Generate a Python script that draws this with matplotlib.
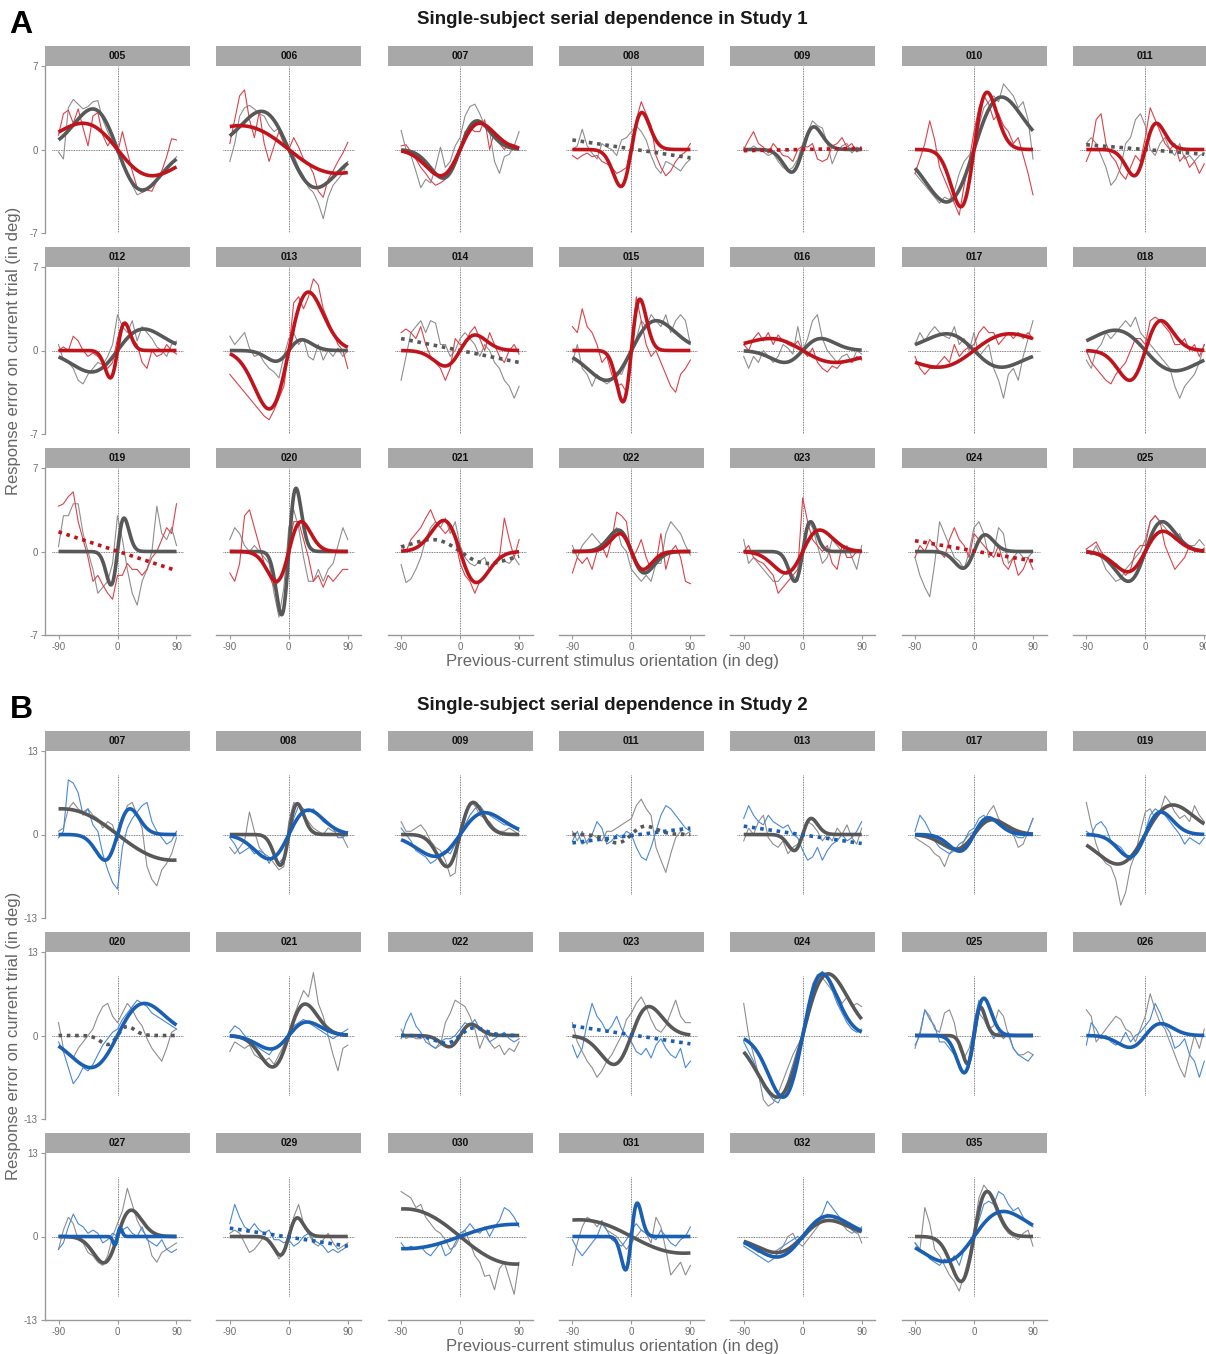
import numpy as np
import matplotlib
matplotlib.use('Agg')
import matplotlib.pyplot as plt
from matplotlib.patches import Rectangle

W, H = 1206, 1354

# sampled positions of the running-average error curves (deg)
RAW_X = np.linspace(-90, 90, 25)

# ---- Study 1 ----
S1_IDS = ['005', '006', '007', '008', '009', '010', '011',
          '012', '013', '014', '015', '016', '017', '018',
          '019', '020', '021', '022', '023', '024', '025']

S1_GRAY_RAW = [
    [-0.2, -0.8, 3.5, 4.2, 3.8, 3.4, 3.6, 4.0, 4.1, 2.5, 1.5, 0.5, -0.3, -1.0, -2.2, -3.0, -3.8, -3.6, -3.3, -3.1, -2.6, -2.0, -1.6, -1.2, -0.6],
    [-1.0, 0.5, 2.8, 3.5, 3.7, 3.4, 3.0, 2.8, 2.0, 1.5, 1.8, 0.5, 0.0, -0.5, -1.5, -2.2, -3.2, -3.6, -4.5, -5.8, -4.0, -3.0, -2.5, -2.0, -1.0],
    [1.6, 0.0, -0.5, -1.8, -3.2, -2.5, -2.8, -1.5, 0.2, -1.5, -1.0, 0.3, 1.0, 2.8, 3.6, 3.8, 3.0, 2.0, 1.5, -1.0, -2.0, -0.6, -0.4, 0.3, 1.5],
    [0.0, 0.3, 1.7, 0.3, -0.3, -0.8, 0.5, 0.2, 0.0, -0.5, 0.8, 1.0, 1.5, 2.0, 1.5, 0.8, -0.5, -1.5, -2.0, -1.0, -1.2, -1.5, -1.8, -1.2, -0.8],
    [0.2, -0.1, 0.3, 0.0, -0.2, -0.5, -0.3, -1.0, -1.5, -1.8, -1.5, -0.8, 0.5, 1.5, 2.4, 2.0, 1.8, 0.5, -1.2, -0.2, 0.3, 0.5, -0.3, 0.2, 0.0],
    [-2.0, -2.5, -3.0, -3.5, -4.0, -4.5, -4.0, -4.2, -3.5, -2.0, -1.0, -0.5, 0.0, 2.0, 3.5, 4.0, 4.5, 4.0, 5.5, 5.0, 4.5, 3.5, 4.0, 2.5, -0.8],
    [0.5, 1.0, 0.5, -0.5, -1.5, -3.0, -2.5, -1.5, 0.5, 1.0, 2.5, 3.0, 2.0, 0.0, -0.5, 0.5, 1.0, 0.0, -0.5, 0.5, -0.8, -0.5, -1.0, -0.5, -0.3],
    [0.5, -0.8, -1.0, -1.5, -2.5, -2.8, -2.0, -1.5, -1.0, -1.2, -0.5, 0.5, 3.0, 2.0, 1.5, 2.5, 0.8, 2.0, 1.5, 1.0, 0.3, 0.0, -0.5, 0.5, 0.8],
    [1.2, 0.5, 1.0, 1.5, 0.2, -0.5, -0.3, -1.0, -1.5, -1.8, -2.3, -0.5, 1.0, 1.5, 0.5, 1.0, -0.5, -0.8, 0.5, -0.8, 0.0, -0.5, 0.2, -0.5, 0.0],
    [-2.5, -0.5, 1.5, 2.0, 2.5, 1.5, 2.5, 2.3, 0.5, 0.5, -0.5, 0.0, 1.0, 1.5, 1.0, 0.5, -0.5, 0.5, 0.0, -1.0, -1.5, -2.5, -3.0, -4.0, -3.0],
    [-1.0, 0.5, -1.5, -2.0, -3.0, -2.0, -2.5, -2.8, -2.5, -1.8, -2.0, -1.0, 0.0, 1.0, 2.5, 2.0, 3.0, 2.5, 2.0, 3.0, 1.5, 2.5, 3.0, 2.5, 0.5],
    [-0.5, -1.5, -0.5, -1.0, 0.0, -0.5, -1.0, -0.5, 0.5, 0.2, -0.3, 2.0, 0.0, 1.0, 2.5, 3.0, 1.0, 0.0, -0.5, -1.0, -0.5, -0.3, -1.0, 0.0, -0.3],
    [0.5, 1.5, 0.8, 1.5, 2.0, 1.5, 1.2, 1.0, 2.0, 0.5, 1.0, 0.0, 1.5, -0.5, 0.0, 0.5, -1.5, -2.5, -4.0, -2.0, -1.5, -2.5, -0.5, 1.0, 2.5],
    [-0.8, -1.5, 0.0, 0.5, 1.5, 1.0, 1.5, 2.0, 2.5, 2.0, 2.8, 1.5, 1.0, 0.5, 0.0, -0.5, -1.0, -1.5, -3.0, -4.0, -3.0, -2.5, -2.0, -1.0, 0.5],
    [0.4, 3.0, 3.0, 4.0, 4.0, 1.5, 0.0, -1.5, -3.5, -3.0, -2.5, -1.0, 3.0, 1.0, -1.5, -3.5, -4.5, -2.5, -1.5, 0.0, 3.8, 1.5, 1.0, 2.0, 0.5],
    [1.0, 2.0, 1.5, 0.5, 0.0, 0.5, 0.0, -0.5, -1.0, -3.5, -5.5, -3.0, 2.0, 3.5, 2.0, -0.5, -2.5, -2.5, -1.5, -2.5, -1.5, -1.0, 0.5, 2.0, 1.0],
    [-1.1, -2.6, -2.3, -1.5, -0.5, 1.0, 2.0, 2.5, 2.0, 2.8, 1.5, 2.5, 0.5, -0.5, -1.0, -1.2, -0.8, -0.5, -1.5, -1.0, -0.3, -0.8, -1.0, -0.5, -1.1],
    [0.5, -0.5, 0.5, 1.0, 1.5, 1.0, 0.5, 1.0, 1.5, 2.0, 0.5, 0.0, -1.5, -2.0, -2.5, -2.0, -2.5, -1.0, -1.0, 1.5, 2.5, 2.0, 1.5, 0.5, -0.3],
    [1.0, -1.0, -0.5, -1.0, -1.5, -2.0, -2.5, -2.5, -2.0, -1.5, -2.0, -2.5, 0.0, 2.5, 2.0, 0.5, -1.0, -0.5, 1.0, 0.5, 0.0, 0.5, -0.5, -1.5, 0.5],
    [-0.5, -2.0, -3.0, -3.8, -1.0, 2.5, 1.5, 0.5, -0.5, -0.8, -1.5, 0.0, 2.0, 2.5, 1.5, -0.5, 0.0, 2.0, 1.5, -1.0, -0.5, 0.0, -0.5, -0.5, 0.0],
    [0.2, -0.3, 0.5, -0.5, -1.5, -2.0, -2.5, -2.3, -1.5, -1.0, -0.5, 0.0, 1.0, 2.5, 3.0, 2.5, 2.0, 1.5, 1.0, 1.5, 0.5, 0.5, 0.5, 1.0, 0.5],
]

S1_COLOR_RAW = [
    [1.2, 3.0, 3.3, 2.2, 3.4, 1.8, 0.3, 2.8, 3.1, 1.2, 0.3, 1.0, -0.3, 1.5, -0.2, -1.8, -3.2, -3.6, -3.4, -3.5, -2.6, -1.8, -0.6, 0.9, 0.8],
    [0.5, 2.5, 4.5, 5.0, 2.5, 1.0, 3.2, 0.5, -1.0, 0.3, 1.5, 0.5, 0.0, 1.0, 0.2, -0.8, -1.2, -2.0, -3.5, -4.0, -2.5, -1.8, -1.0, -0.3, 0.6],
    [0.3, 0.4, -0.2, -0.8, -1.5, -2.0, -2.6, -3.0, -2.8, -2.5, -1.5, -1.0, 0.0, 1.5, 1.8, 1.5, 1.5, 2.5, 0.0, 1.5, 0.5, 0.0, 0.5, 0.4, 0.2],
    [-0.5, -0.8, -0.5, -0.3, -0.6, -0.5, -1.0, -1.2, -1.5, -2.0, -1.8, -1.5, 0.5, 2.5, 4.0, 3.0, 2.0, -0.5, -1.5, -2.2, -1.8, -1.0, -0.5, -0.2, 0.5],
    [0.0, 0.8, 1.5, 0.5, 0.2, -0.3, 0.5, 0.0, -0.5, -0.6, -1.0, 0.0, 0.3, 0.2, 0.5, -0.8, -1.0, -0.8, 0.3, 0.5, 1.0, 0.2, 0.5, -0.2, 0.1],
    [-2.0, -0.8, 0.5, 2.4, 0.8, -1.5, -2.5, -3.5, -4.5, -5.5, -3.0, -1.0, 1.5, 3.5, 4.5, 3.8, 2.5, 3.0, 2.0, 1.5, 0.5, 1.0, -0.5, -2.0, -3.8],
    [-1.0, 0.0, 2.5, 3.0, 0.5, -0.5, -1.0, -2.0, -2.5, -1.5, -0.5, -1.0, 1.0, 3.5, 2.5, 1.5, 0.5, 0.0, 0.5, -1.0, -0.5, -1.5, -1.0, -2.0, -1.2],
    [0.0, 0.3, 0.0, 1.2, 0.8, 0.0, -0.5, -0.2, -0.5, -1.0, -1.5, -1.0, 1.0, 2.3, 2.0, 1.0, 0.5, -1.0, -1.5, 0.0, -0.5, -0.3, 0.5, 0.0, -0.3],
    [-2.0, -2.5, -3.0, -3.5, -4.0, -4.5, -5.0, -5.5, -5.8, -5.0, -4.0, -3.0, 0.0, 4.0, 4.5, 3.5, 4.5, 6.0, 5.5, 3.5, 2.5, 1.5, 0.5, 0.0, -1.5],
    [1.5, 1.8, 1.5, 1.0, 2.0, 0.5, -0.5, -1.0, -1.5, -2.5, -1.5, 1.0, 0.5, 0.5, 1.5, 2.0, 1.0, 0.0, 1.5, 0.5, -0.5, -1.0, 0.0, 0.5, -0.3],
    [2.0, 1.5, 3.5, 2.0, 1.5, 0.5, -1.0, -0.5, -2.0, -3.0, -2.8, -3.5, 0.5, 4.5, 2.5, 0.5, -0.5, 0.0, -1.0, -2.0, -3.0, -3.5, -2.0, -1.5, -0.8],
    [0.5, 0.0, 1.0, 1.5, 0.8, 1.5, 0.5, 1.3, 0.8, 0.5, 0.3, 0.8, 0.0, -0.5, 0.2, -1.0, -1.5, -1.8, -1.3, -1.5, -1.0, -0.8, -1.0, -0.5, -0.8],
    [-0.5, -1.5, -2.0, -1.5, -1.5, -1.0, -0.5, -1.0, 0.5, -0.5, 0.0, 0.3, 0.5, 1.5, 2.0, 1.5, 1.5, 0.5, 1.0, 1.5, 1.0, 1.5, 1.0, 1.5, 1.0],
    [0.0, -1.0, -1.5, -2.0, -2.5, -2.8, -2.0, -1.5, -1.0, 0.0, 1.0, 1.0, 0.5, 2.5, 2.8, 2.5, 2.0, 1.5, 0.5, 0.5, 1.0, 0.0, 0.5, -0.5, 0.5],
    [3.8, 4.0, 4.6, 5.0, 2.5, 1.0, -0.5, -2.5, -2.0, -2.8, -3.5, -4.0, -2.0, -2.0, -1.0, -1.5, -1.5, -2.0, -1.5, -0.5, 0.0, 1.0, 2.0, 1.5, 4.0],
    [-1.8, -2.5, -1.0, 3.0, 3.5, 2.0, 0.5, -1.0, -2.0, -3.0, -2.5, -1.5, 0.5, 2.5, 2.5, 1.0, -0.5, -2.5, -2.0, -3.0, -2.0, -2.5, -2.0, -1.5, -1.5],
    [0.5, 0.0, 1.0, 1.5, 2.0, 2.8, 3.5, 2.5, 2.0, 1.5, 2.0, 1.0, -1.0, -2.0, -2.5, -3.5, -2.5, -2.0, -1.5, -1.0, -0.5, 2.8, 1.0, -0.5, 1.0],
    [-1.8, -0.5, -1.0, -0.5, -1.5, 0.0, 0.5, -0.5, 1.0, 3.3, 3.0, 2.5, -0.5, 0.0, 1.0, -0.5, -1.5, -1.0, 1.5, -1.5, 0.0, 0.5, -0.5, -2.5, -2.7],
    [0.0, 0.5, -0.5, -0.8, -1.0, -1.5, -2.0, -3.5, -3.0, -2.5, -2.0, -1.5, 4.5, 2.5, 1.0, 0.5, 0.0, 0.5, -1.0, -1.5, 0.5, -0.5, -0.5, 0.0, 0.0],
    [-0.5, 0.5, 0.0, 1.0, 0.5, 0.0, -0.5, 1.0, 2.0, 1.0, 0.5, -0.5, 1.5, 1.0, 0.5, 0.0, -0.5, 0.5, -1.0, -1.5, -0.5, -2.0, -1.5, -0.5, -1.5],
    [0.2, 0.5, 0.8, 0.0, -0.5, -1.0, -1.0, -1.5, -2.0, -1.5, 0.0, 0.5, 0.5, 2.5, 3.0, 2.5, 0.5, -0.5, -1.5, -1.0, -0.5, 0.5, 0.0, 0.0, 0.3],
]

# fitted curves: ('dog', amplitude, peak position) derivative-of-Gaussian,
# ('dogdot', ...) same but dotted, ('lin', value at -90, value at 90) dotted
S1_GRAY_FIT = [
    ('dog', -3.4, 38), ('dog', -3.2, 42), ('dog', 2.4, 26), ('lin', 0.8, -0.7),
    ('dog', 1.9, 17), ('dog', 4.4, 42), ('lin', 0.4, -0.4),
    ('dog', 1.8, 40), ('dog', 0.9, 20), ('lin', 1.0, -1.0), ('dog', 2.5, 38),
    ('dog', 1.0, 28), ('dog', -1.4, 42), ('dog', -1.7, 46),
    ('dog', 2.8, 10), ('dog', 5.3, 11), ('dogdot', -1.0, 43), ('dog', -1.8, 20),
    ('dog', 2.5, 12), ('dog', 1.4, 17), ('dog', 2.5, 26),
]
S1_COLOR_FIT = [
    ('dog', -2.2, 53), ('dog', -2.0, 75), ('dog', 2.2, 30), ('dog', 3.1, 16),
    ('lin', -0.1, 0.1), ('dog', 4.8, 20), ('dog', 2.2, 17),
    ('dog', 2.3, 11), ('dog', 4.9, 30), ('dog', 1.3, 23), ('dog', 4.3, 13),
    ('dog', -1.0, 50), ('dog', 1.4, 55), ('dog', 2.5, 24),
    ('lin', 1.65, -1.6), ('dog', 2.5, 19), ('dog', -2.6, 25), ('dog', -1.5, 18),
    ('dog', 1.8, 26), ('lin', 0.9, -0.8), ('dog', 1.7, 27),
]

# ---- Study 2 ----
S2_IDS = ['007', '008', '009', '011', '013', '017', '019',
          '020', '021', '022', '023', '024', '025', '026',
          '027', '029', '030', '031', '032', '035']

S2_GRAY_RAW = [
    [0.5, 1.0, 4.0, 5.0, 4.0, 3.5, 4.0, 3.0, 2.5, 1.0, 2.0, 1.5, -1.0, 2.0, 4.5, 5.0, 3.0, 1.0, -5.0, -7.0, -8.0, -5.5, -4.5, -3.0, -0.5],
    [-2.0, -3.0, -2.0, -1.0, 3.5, 0.5, -2.0, -3.0, -3.5, -4.5, -5.5, -5.0, 2.0, 5.0, 4.5, 3.0, 2.0, 1.0, 0.5, 0.0, 1.0, 0.5, 0.5, -0.5, -2.0],
    [2.0, 0.5, 0.5, 1.0, 1.5, 0.5, -1.0, -2.0, -2.5, -4.0, -6.5, -6.0, 1.0, 3.0, 5.0, 4.5, 3.0, 2.5, 2.0, 1.0, 0.5, 0.5, 1.0, 0.5, 0.0],
    [0.5, -1.0, 0.5, -1.5, 0.0, -0.5, -1.0, 0.5, 0.5, 1.0, 1.5, 2.0, 2.5, 4.5, 5.5, 4.0, 3.0, -2.0, -4.0, -5.9, -3.0, -0.5, 0.5, 0.0, 0.5],
    [-1.0, 1.0, 0.0, 2.0, 3.0, -0.5, -1.5, -2.0, -1.0, -3.0, -2.0, -1.5, 0.0, 2.0, 1.5, 0.5, -1.0, 0.0, -1.0, 1.0, 0.0, 1.5, -0.5, -1.5, 1.0],
    [-0.5, -1.0, -1.5, -2.0, -3.0, -3.5, -5.0, -3.0, -2.0, -2.5, -1.0, 0.0, 0.5, 1.5, 2.0, 3.5, 4.5, 2.5, 1.5, 1.0, 0.0, -2.0, -1.5, 0.5, 2.5],
    [5.0, 1.5, -1.5, -3.5, -4.5, -5.0, -7.0, -11.0, -9.0, -5.0, -3.0, 0.5, 3.5, 4.0, 2.5, 3.5, 6.0, 5.0, 3.5, 2.5, 3.0, 2.0, 4.5, 3.0, 2.0],
    [2.0, -2.0, -3.0, -3.5, -2.0, -1.0, 0.0, 1.0, 3.0, 4.5, 5.0, 3.0, 2.0, 3.5, 5.0, 4.0, 2.5, 1.5, -0.5, -2.0, -3.0, -4.0, -2.0, 0.5, 1.0],
    [-2.5, -1.0, -1.5, -2.0, -1.5, -3.0, -3.5, -4.0, -3.5, -4.5, -3.0, -1.5, 0.0, 3.0, 5.0, 7.0, 6.0, 9.8, 5.0, 3.0, 0.0, -3.0, -5.5, -2.0, -1.5],
    [1.0, -0.5, 0.0, -0.5, -0.5, 0.0, -1.5, -2.0, -1.5, 2.0, 3.5, 5.5, 5.0, 4.5, 3.0, 1.0, -2.0, 0.0, -1.0, -2.0, -1.5, -3.0, -2.0, -2.5, -1.0],
    [2.0, -1.0, -2.5, -4.0, -5.0, -6.5, -5.5, -4.0, -3.0, -1.5, 0.0, 2.5, 3.5, 5.0, 6.0, 4.5, 2.5, 1.0, 0.5, 1.5, 3.5, 5.5, 3.0, 2.0, 2.0],
    [5.0, 0.0, -3.0, -6.0, -10.0, -11.0, -10.5, -9.0, -7.0, -5.0, -3.0, -1.5, 0.0, 4.0, 8.0, 9.5, 9.0, 8.0, 7.0, 6.5, 5.0, 6.0, 4.5, 5.0, 4.5],
    [-2.0, 0.5, 4.0, 3.0, 1.0, 0.5, 3.5, 4.0, 2.0, -2.0, -3.5, -2.0, 1.0, 3.5, 2.5, 1.0, 1.5, 4.0, 3.0, 0.0, -2.0, -3.0, -3.0, -2.5, -3.0],
    [4.0, 3.0, -1.0, 0.0, 1.0, 2.0, 3.0, 2.5, 1.0, 0.5, -1.0, 1.0, 3.0, 6.5, 4.0, 2.0, 1.0, -1.0, -3.0, -5.0, -6.5, -3.0, 0.0, -2.0, 1.0],
    [-2.0, 1.0, 3.0, 2.0, -0.5, -1.0, -2.5, -3.0, -4.0, -4.5, -3.0, 0.0, 2.0, 4.0, 7.5, 5.0, 2.5, 1.0, 0.0, -3.0, -4.0, -2.5, -2.0, -1.5, -1.0],
    [0.5, 1.0, 0.5, -1.0, -2.5, -2.0, -1.0, 0.0, -1.0, -2.0, -3.5, -2.5, 0.0, 3.0, 5.0, 2.0, 0.5, -1.0, -1.5, -0.5, 0.5, -1.0, -2.0, -1.5, -1.0],
    [7.0, 6.5, 6.0, 4.5, 5.0, 3.0, 2.0, 1.0, 0.5, -0.5, -2.0, -1.5, 0.0, 1.0, -1.0, -3.0, -4.0, -6.2, -6.0, -8.3, -5.0, -4.0, -6.5, -9.0, -4.0],
    [-4.5, -1.0, 1.5, 3.0, 2.5, 1.5, 2.5, 1.0, 0.5, 0.0, -1.0, -2.0, -1.0, 0.0, 1.0, 0.5, -1.0, 3.0, 1.5, -2.0, -6.0, -5.0, -4.0, -6.0, -4.5],
    [-1.0, -1.5, -2.0, -2.5, -2.5, -3.0, -2.5, -2.0, -1.5, 0.0, 0.5, -1.0, -1.5, -0.5, 0.5, 1.5, 2.5, 3.5, 3.0, 2.5, 2.0, 1.0, 0.5, 1.0, -1.0],
    [-1.0, -2.0, 4.5, 2.0, -2.0, -3.0, -4.5, -6.0, -7.0, -8.5, -6.0, -3.0, 1.0, 6.0, 8.0, 7.0, 5.0, 3.0, 1.5, 0.5, 0.0, -0.5, 0.5, 1.0, -1.5],
]

S2_COLOR_RAW = [
    [-0.5, 0.5, 8.5, 8.0, 6.5, 3.0, 4.0, 1.5, 0.5, -3.0, -5.5, -7.5, -8.5, -2.0, 1.0, 2.5, 3.5, 4.5, 5.0, 2.0, 0.5, -0.5, -1.5, -1.0, 0.5],
    [-0.5, -1.5, -3.0, -2.5, -2.0, -3.0, -2.5, -3.0, -4.5, -3.0, -4.5, -3.5, -1.0, 2.5, 4.5, 4.0, 3.5, 4.0, 3.0, 2.0, 1.5, 1.0, -0.5, -0.5, 0.5],
    [1.0, 0.0, -1.0, -2.5, -3.0, -3.5, -4.5, -4.0, -3.0, -2.5, -3.0, -1.5, -0.5, 1.5, 3.0, 4.0, 4.5, 3.5, 3.0, 2.5, 2.0, 1.5, 1.5, 1.0, 0.5],
    [-1.0, 0.5, -1.5, -1.0, 0.0, 2.0, 1.0, -1.5, -1.0, 0.0, -0.5, 0.5, 0.0, -2.0, -3.5, -4.0, -2.0, 0.5, 3.0, 4.5, 4.0, 3.0, 2.0, 1.0, 0.5],
    [2.5, 4.5, 3.0, 2.0, 1.5, 3.0, 2.0, 1.5, 1.0, 1.5, 0.0, -0.5, -2.5, -4.0, -3.5, -2.0, -4.0, -2.5, -1.5, -1.0, 0.0, -1.0, -0.5, 0.5, 2.0],
    [0.5, 3.0, 2.0, 0.5, -1.0, -2.0, -2.5, -3.0, -2.5, -1.5, -1.0, 0.5, 1.0, 2.5, 3.0, 2.0, 2.5, 1.5, 1.0, 0.5, 0.0, -0.5, -0.5, 0.5, 2.5],
    [0.5, 0.0, 1.5, 2.0, 1.0, -1.0, -1.5, -2.0, -3.0, -4.0, -3.0, -2.0, 0.5, 3.0, 4.0, 3.5, 3.0, 2.0, 1.0, 0.0, -1.5, -0.5, -1.0, -1.5, -0.5],
    [-1.0, -2.5, -5.0, -7.5, -6.5, -5.0, -5.5, -4.5, -3.0, -1.5, -0.5, 0.5, 1.0, 2.5, 3.5, 4.5, 5.5, 5.0, 4.5, 3.5, 3.0, 2.5, 2.0, 1.5, 1.0],
    [0.5, 1.5, 1.0, 0.0, -1.0, -1.5, -2.0, -2.5, -3.0, -2.0, -1.5, -1.0, 0.5, 1.5, 2.0, 2.5, 2.0, 1.5, 1.0, 0.5, 0.0, -0.5, 0.0, 0.5, 1.0],
    [-0.5, 2.0, 3.5, 1.5, 0.5, -1.0, -1.5, -2.0, -1.0, -0.5, -0.5, 0.0, 1.0, 2.0, 1.5, 2.5, 1.0, 0.5, -1.0, -0.5, 0.0, 0.5, -0.5, -1.0, -0.5],
    [-1.5, -3.5, -2.0, 2.0, 5.0, 3.0, 2.0, 0.5, 1.5, 3.0, 1.0, 0.0, -1.0, -2.5, -3.0, -2.0, -3.5, -1.5, -0.5, -2.0, -3.0, -3.5, -2.0, -5.0, -4.0],
    [-1.0, -2.5, -4.0, -6.0, -8.0, -9.0, -10.0, -10.5, -9.0, -7.0, -4.5, -2.0, 0.0, 3.0, 6.0, 9.0, 10.0, 9.0, 7.0, 5.0, 3.5, 2.0, 1.0, 0.5, 1.0],
    [-1.5, 0.0, 4.0, 2.5, 1.5, -1.0, -1.0, -2.0, -3.0, -4.5, -6.0, -5.0, 2.0, 5.5, 3.0, 1.0, -0.5, 0.5, -0.5, 0.5, -2.0, -3.0, -3.5, -4.0, -3.0],
    [-1.5, 2.0, 1.0, -0.5, 0.0, -1.0, -1.5, -1.0, 0.5, -1.0, 0.0, 0.5, 1.5, 2.5, 5.0, 3.5, 1.5, 0.5, -2.0, -1.5, -0.5, -3.0, -4.0, -6.5, -4.0],
    [-2.0, -1.0, 1.5, 3.5, 2.0, 1.5, 0.5, 1.0, 0.5, -1.0, -0.5, 0.5, 0.0, 1.0, 1.5, 0.5, 0.0, 1.5, -0.5, -1.0, -1.5, -0.5, -2.0, -2.5, -2.0],
    [2.0, 5.0, 3.0, 1.5, 1.0, 2.0, 1.0, 0.5, 1.0, -0.5, -0.5, -1.0, -0.5, -1.5, -1.0, 0.0, 0.5, -0.5, -1.0, -1.5, -2.5, -2.0, -2.5, -2.0, -1.5],
    [-1.0, -2.0, -1.5, -2.0, -1.5, -2.5, -3.0, -2.0, -1.0, -3.0, -2.5, -1.0, 0.5, 1.0, 2.0, 1.0, 0.5, 1.5, 0.0, 1.5, 2.5, 4.5, 4.0, 3.0, 1.5],
    [-0.5, -2.0, -3.0, -2.0, -1.0, 0.0, 2.0, 1.0, -0.5, -1.0, -1.5, -0.5, 1.0, 2.0, 1.0, 0.5, 0.0, -0.5, 1.0, 0.0, -1.0, -1.5, -0.5, 0.0, 1.5],
    [-1.5, -2.0, -2.5, -3.0, -3.5, -4.0, -3.5, -2.5, -1.5, -1.0, -0.5, 0.0, -0.5, 0.5, 1.5, 2.5, 3.5, 5.5, 4.5, 3.5, 2.5, 2.0, 1.0, 0.5, 1.5],
    [-1.0, -2.0, -2.5, -3.5, -4.0, -4.5, -3.5, -4.0, -3.0, -4.5, -2.0, -1.0, 0.5, 2.5, 5.0, 5.5, 5.0, 7.0, 6.5, 5.0, 4.0, 4.5, 3.0, 2.0, 1.5],
]

S2_GRAY_FIT = [
    ('dog', -4.0, 85), ('dog', 4.8, 13), ('dog', 5.0, 20), ('dogdot', 1.3, 22),
    ('dog', 2.5, 13), ('dog', 2.3, 28), ('dog', 4.6, 42),
    ('dogdot', 1.4, 15), ('dog', 4.9, 25), ('dog', 1.75, 17), ('dog', 4.5, 27),
    ('dog', 9.6, 39), ('dog', 4.4, 10), None,
    ('dog', 4.1, 21), ('dog', 2.9, 13), ('dog', -4.3, 85), ('dog', -2.6, 80),
    ('dog', 2.5, 40), ('dog', 7.0, 20),
]
S2_COLOR_FIT = [
    ('dog', 4.0, 19), ('dog', 3.8, 30), ('dog', 3.4, 38), ('lin', -1.3, 1.0),
    ('lin', 1.3, -1.4), ('dog', 2.6, 22), ('dog', 3.5, 24),
    ('dog', 5.0, 41), ('dog', 2.1, 28), ('dogdot', 1.2, 22), ('lin', 1.5, -1.3),
    ('dog', 9.6, 30), ('dog', 5.8, 15), ('dog', 1.85, 24),
    ('dog', 1.3, 4), ('lin', 1.3, -1.5), ('dog', 1.9, 85), ('dog', 5.2, 9),
    ('dog', 3.2, 40), ('dog', 3.9, 45),
]

GRAY_RAW = '#8e8e8e'
GRAY_FIT = '#585858'
RED_RAW = '#d8434b'
RED_FIT = '#c0141d'
BLUE_RAW = '#4a88d6'
BLUE_FIT = '#1b5fb3'
HEADER = '#a8a8a8'
AXIS_GREY = '#9a9a9a'
TEXT_GREY = '#6e6e6e'

COL_X = [45 + 171.3 * i for i in range(7)]
PANEL_W, PANEL_H, HEADER_H = 145, 167, 20
FIT_X = np.linspace(-90, 90, 361)


def dog(x, amp, peak):
    u = x / peak
    return amp * u * np.exp(0.5 * (1 - u ** 2))


def draw_fit(ax, fit, color):
    if fit is None:
        return
    kind, a, b = fit
    dotted = dict(linestyle=(0, (1.0, 1.3)), dash_capstyle='butt', lw=2.6)
    if kind == 'dog':
        ax.plot(FIT_X, dog(FIT_X, a, b), color=color, lw=2.6, solid_capstyle='butt', zorder=4)
    elif kind == 'dogdot':
        ax.plot(FIT_X, dog(FIT_X, a, b), color=color, zorder=4, **dotted)
    else:
        ax.plot([-90, 90], [a, b], color=color, zorder=4, **dotted)


def panel(fig, left, top, label, gray_raw, col_raw, gray_fit, col_fit,
          ylim, vspan, raw_c, fit_c, show_y, show_x):
    ax = fig.add_axes([left / W, 1 - (top + PANEL_H) / H, PANEL_W / W, PANEL_H / H])
    ax.set_xlim(-110.6, 110.6)
    ax.set_ylim(-ylim, ylim)
    ax.patch.set_alpha(0)

    ax.plot([-100, 100], [0, 0], color='#555555', lw=0.6, ls=(0, (1, 1)), zorder=1)
    ax.plot([0, 0], [-vspan, vspan], color='#555555', lw=0.6, ls=(0, (1, 1)), zorder=1)

    ax.plot(RAW_X, gray_raw, color=GRAY_RAW, lw=0.8, zorder=2)
    ax.plot(RAW_X, col_raw, color=raw_c, lw=0.8, zorder=2)
    draw_fit(ax, gray_fit, GRAY_FIT)
    draw_fit(ax, col_fit, fit_c)

    for side in ['top', 'right']:
        ax.spines[side].set_visible(False)
    ax.spines['left'].set_visible(show_y)
    ax.spines['bottom'].set_visible(show_x)
    for side in ['left', 'bottom']:
        ax.spines[side].set_color(AXIS_GREY)
        ax.spines[side].set_linewidth(1.0)
    ax.tick_params(colors=AXIS_GREY, labelcolor=TEXT_GREY, length=3, width=0.8,
                   labelsize=7, pad=2)
    if show_y:
        ax.set_yticks([-ylim, 0, ylim])
        ax.set_yticklabels([str(-ylim), '0', str(ylim)])
    else:
        ax.set_yticks([])
    if show_x:
        ax.set_xticks([-90, 0, 90])
        ax.set_xticklabels(['-90', '0', '90'])
    else:
        ax.set_xticks([])

    # strip with the subject number
    hh = HEADER_H / PANEL_H
    ax.add_patch(Rectangle((0, 1), 1, hh, transform=ax.transAxes, facecolor=HEADER,
                           edgecolor='none', clip_on=False))
    ax.text(0.5, 1 + hh / 2, label, transform=ax.transAxes, ha='center', va='center',
            fontsize=7.5, fontweight='bold', color='#111111')
    return ax


def study_block(fig, ids, gray_raw, col_raw, gray_fit, col_fit, row_tops, ylim, vspan,
                raw_c, fit_c, title, letter, title_y, xlabel_y, ylabel_y):
    n_rows = len(row_tops)
    for i, label in enumerate(ids):
        r, c = divmod(i, 7)
        panel(fig, COL_X[c], row_tops[r], label, gray_raw[i], col_raw[i], gray_fit[i],
              col_fit[i], ylim, vspan, raw_c, fit_c, show_y=(c == 0), show_x=(r == n_rows - 1))

    fig.text(612 / W, 1 - title_y / H, title, ha='center', va='center',
             fontsize=13.5, fontweight='bold', color='#1a1a1a')
    fig.text(21 / W, 1 - (title_y + 5) / H, letter, ha='center', va='center',
             fontsize=23, fontweight='bold', color='black')
    fig.text(612 / W, 1 - xlabel_y / H, 'Previous-current stimulus orientation (in deg)',
             ha='center', va='center', fontsize=12, color='#666666')
    fig.text(14 / W, 1 - ylabel_y / H, 'Response error on current trial (in deg)',
             ha='center', va='center', rotation=90, fontsize=12, color='#666666')


def main():
    plt.rcParams['font.family'] = ['Liberation Sans', 'DejaVu Sans']
    fig = plt.figure(figsize=(W / 100, H / 100), dpi=100)

    study_block(fig, S1_IDS, S1_GRAY_RAW, S1_COLOR_RAW, S1_GRAY_FIT, S1_COLOR_FIT,
                [66, 267, 468], 7, 7, RED_RAW, RED_FIT,
                'Single-subject serial dependence in Study 1', 'A', 20, 661, 351)
    study_block(fig, S2_IDS, S2_GRAY_RAW, S2_COLOR_RAW, S2_GRAY_FIT, S2_COLOR_FIT,
                [751, 952, 1153], 13, 9.2, BLUE_RAW, BLUE_FIT,
                'Single-subject serial dependence in Study 2', 'B', 705, 1346, 1036)

    fig.savefig('out.png', dpi=100, facecolor='white')
    plt.close(fig)


if __name__ == '__main__':
    main()
